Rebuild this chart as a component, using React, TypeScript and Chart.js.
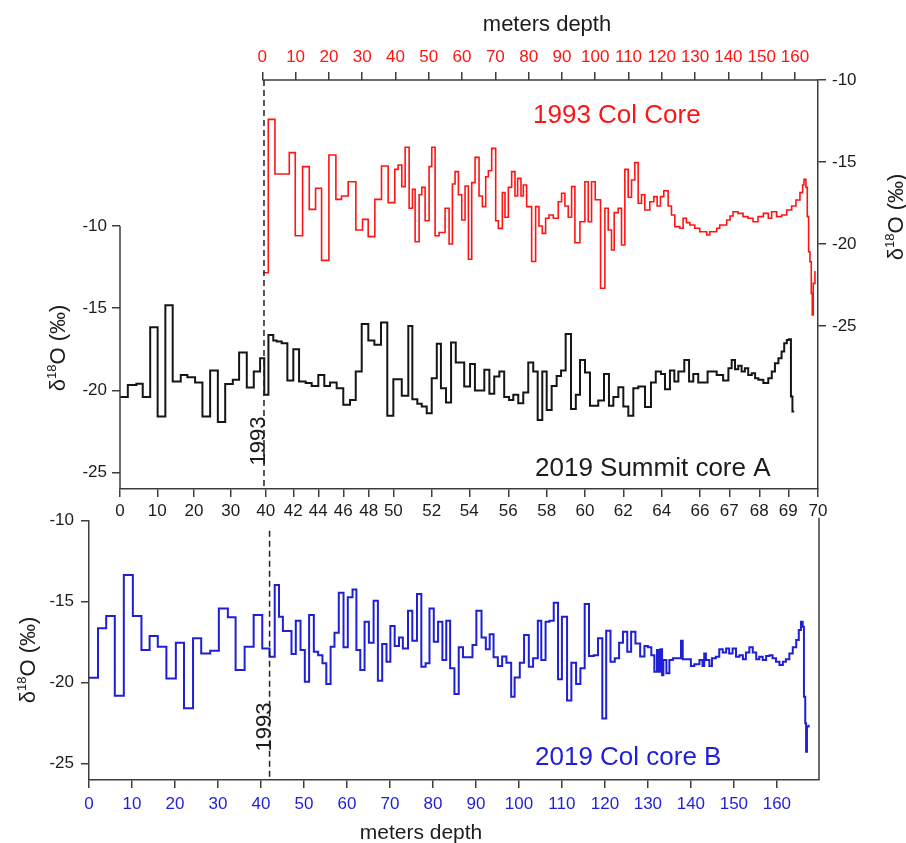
import React, { useEffect, useRef } from 'react';
import { Chart, LinearScale, registerables } from 'chart.js';

// ---------------- data ----------------
// 1993 Col Core (top axis depth, right axis d18O): step boundaries (m) and values (‰)
const COL1993_DEPTH = [0.3,1.8,3.8,8.1,9.9,12.1,14.1,16.0,17.8,20.0,
  22.1,23.8,25.8,28.1,30.1,31.8,33.8,35.8,37.8,39.8,
  40.8,41.9,42.9,44.1,45.1,45.9,47.1,47.9,48.9,50.1,
  50.9,51.9,53.1,54.9,56.1,57.1,57.9,58.9,59.9,60.9,
  61.9,62.9,63.9,65.1,66.1,67.1,67.9,68.9,70.1,70.9,
  72.1,72.9,73.9,74.9,75.9,76.7,77.7,78.4,79.4,80.9,
  82.1,83.1,84.1,85.1,86.1,87.4,88.9,89.9,90.9,91.9,
  92.9,93.9,95.4,96.9,97.9,98.9,100.0,101.6,102.9,103.9,
  104.9,105.7,106.9,107.9,108.9,109.9,110.9,111.9,112.9,113.9,
  114.9,116.4,117.6,118.6,119.6,120.6,121.9,122.9,123.9,124.4,
  125.4,126.4,127.4,128.4,129.9,131.4,133.5,134.4,136.5,137.4,
  139.5,140.5,141.4,142.9,144.4,145.9,147.4,148.9,150.5,152.0,
  153.0,154.5,156.0,157.5,159.0,160.3,161.5,162.3,162.7,163.3,
  163.7,164.1,164.5,164.9,165.2,165.5,166.0,
  166.2];
const COL1993_D18O = [-21.75,-12.4,-15.73,-14.43,-19.5,-15.28,-17.89,-16.6,-21.0,-14.57,
  -17.28,-17.07,-16.2,-19.15,-18.5,-19.55,-17.28,-15.24,-17.48,-15.45,
  -15.18,-16.5,-14.1,-17.82,-16.67,-19.86,-17.0,-16.55,-18.58,-15.28,
  -14.1,-19.5,-19.3,-17.82,-20.0,-16.34,-15.59,-17.0,-18.54,-16.46,
  -20.93,-16.26,-14.72,-17.07,-17.72,-15.9,-15.53,-14.17,-18.58,-19.05,
  -16.87,-18.37,-16.55,-15.59,-17.07,-16.0,-17.07,-16.4,-17.72,-21.07,
  -17.72,-18.9,-19.35,-18.43,-18.23,-18.43,-17.42,-16.91,-17.68,-18.37,
  -16.5,-19.92,-18.64,-16.2,-18.64,-16.2,-17.3,-22.7,-17.82,-19.15,
  -20.37,-18.09,-17.82,-20.06,-15.45,-17.15,-16.1,-15.04,-17.52,-17.0,
  -17.93,-17.42,-17.11,-17.68,-17.11,-16.75,-17.68,-18.23,-18.94,-18.94,
  -19.04,-18.43,-18.7,-18.84,-19.04,-19.25,-19.45,-19.25,-19.04,-18.84,
  -18.54,-18.29,-18.03,-18.13,-18.33,-18.43,-18.64,-18.33,-18.13,-18.43,
  -18.03,-18.33,-18.23,-17.93,-17.68,-17.32,-16.87,-16.4,-16.06,-16.55,
  -18.33,-20.47,-21.08,-23.01,-24.33,-22.4,-21.69];

// 2019 Summit core A (bottom axis depth, left axis d18O)
const COREA_DEPTH = [0,2.1,4.4,6.1,8.1,10.1,12.2,14.2,16.4,18.2,
  20.3,22.3,24.4,26.5,28.5,30.6,32.4,34.6,36.6,38.4,
  39.6,40.2,40.55,40.8,41.16,41.57,42.0,42.46,42.99,43.47,
  44.0,44.48,44.94,45.47,46.0,46.53,46.98,47.45,47.97,48.46,
  49.0,49.51,50.0,50.44,50.78,50.99,51.25,51.48,51.74,52.0,
  52.27,52.49,52.76,53.03,53.28,53.73,54.04,54.29,54.77,55.03,
  55.28,55.54,55.79,56.04,56.26,56.52,56.78,57.04,57.3,57.53,
  57.77,58.0,58.26,58.52,58.75,58.99,59.27,59.52,59.74,60.0,
  60.26,60.69,60.99,61.25,61.48,61.74,62.0,62.26,62.52,62.78,
  63.13,63.44,63.69,63.96,64.17,64.43,64.66,64.87,65.18,65.43,
  65.65,65.91,66.26,66.57,66.79,66.97,67.08,67.19,67.3,67.41,
  67.52,67.63,67.75,67.86,67.97,68.14,68.31,68.43,68.54,68.66,
  68.77,68.86,68.95,69.02,69.09,69.14,
  69.2];
const COREA_D18O = [-20.41,-19.67,-19.6,-20.41,-16.16,-21.59,-14.82,-19.46,-19.06,-19.2,
  -19.53,-21.59,-18.8,-21.93,-19.62,-19.36,-17.7,-19.83,-18.86,-18.04,
  -20.27,-16.63,-16.97,-17.03,-17.13,-19.4,-17.5,-19.46,-19.56,-19.73,
  -19.06,-19.73,-19.53,-19.87,-20.88,-20.58,-18.86,-15.96,-16.97,-17.23,
  -15.88,-21.55,-19.32,-20.33,-16.08,-20.54,-20.82,-20.98,-21.39,-19.26,
  -17.17,-19.87,-20.74,-17.09,-18.31,-19.77,-18.39,-20.01,-18.75,-20.21,
  -19.16,-18.86,-20.41,-20.58,-20.27,-20.78,-20.13,-18.31,-18.86,-21.8,
  -18.86,-21.19,-19.73,-19.12,-18.8,-16.57,-21.14,-20.27,-18.15,-18.92,
  -20.94,-20.62,-19.0,-20.94,-20.41,-19.81,-20.98,-21.55,-19.87,-19.77,
  -21.02,-19.53,-18.86,-19.0,-19.93,-18.8,-19.46,-18.86,-18.15,-19.46,
  -19.0,-19.53,-18.86,-19.06,-19.4,-18.65,-18.15,-18.71,-18.51,-18.86,
  -18.65,-19.06,-18.96,-19.26,-19.36,-19.56,-19.26,-18.86,-18.35,-18.04,
  -17.64,-17.13,-16.93,-16.89,-20.38,-21.29];

// 2019 Col core B (bottom panel)
const COREB_DEPTH = [0,2.1,4.0,6.0,8.1,10.2,12.2,14.1,16.0,18.0,
  20.2,22.1,24.2,26.1,28.2,30.2,32.3,34.1,36.2,38.3,
  40.3,42.0,43.2,44.2,45.1,47.1,48.1,49.2,50.2,51.2,
  52.3,53.3,54.3,55.2,56.2,57.1,58.1,59.2,60.2,61.3,
  62.2,63.1,64.1,65.1,66.2,67.2,68.2,69.2,70.1,71.1,
  72.1,73.0,74.2,75.2,76.3,77.3,78.3,79.2,80.2,81.2,
  82.2,83.1,84.0,85.0,86.0,87.0,89.2,90.1,91.3,92.3,
  93.2,94.1,95.1,96.1,97.1,98.2,99.0,100.2,101.2,102.3,
  103.3,104.4,105.2,106.2,107.1,108.1,109.1,110.0,111.2,112.2,
  113.3,114.3,115.3,116.3,117.4,118.4,119.4,120.3,121.3,122.3,
  123.3,124.2,125.2,126.1,127.1,128.2,129.2,130.0,130.8,131.5,
  132.1,132.5,132.9,133.3,133.6,134.3,135.0,135.8,137.7,138.1,
  140.0,140.8,142.0,142.7,143.1,143.5,144.3,144.9,145.8,146.6,
  147.4,148.2,148.9,149.7,150.5,151.3,152.1,152.8,153.6,154.4,
  155.2,155.9,156.7,157.5,158.3,159.0,159.8,160.6,161.4,162.1,
  162.9,163.7,164.5,165.1,165.6,166.0,166.3,166.6,166.8,167.0,
  167.4,
  167.6];
const COREB_D18O = [-19.69,-16.64,-15.88,-20.8,-13.35,-15.88,-17.98,-17.12,-17.78,-19.73,
  -17.53,-21.58,-17.26,-18.19,-18.02,-15.41,-15.96,-19.22,-17.78,-15.82,
  -17.88,-18.4,-13.97,-15.93,-16.81,-18.23,-16.17,-17.98,-19.94,-15.82,
  -18.09,-18.3,-18.8,-20.08,-17.78,-16.91,-14.44,-17.81,-14.73,-14.24,
  -17.98,-19.22,-16.23,-17.53,-14.94,-19.88,-17.61,-18.7,-16.5,-17.73,
  -17.2,-17.88,-15.56,-17.41,-14.52,-19.01,-18.8,-15.41,-17.47,-16.23,
  -18.6,-16.17,-19.11,-20.7,-17.81,-18.43,-17.67,-15.56,-17.2,-17.93,
  -17.0,-18.43,-18.97,-18.38,-18.77,-20.86,-19.67,-18.77,-17.06,-19.01,
  -18.49,-16.17,-18.6,-16.23,-16.17,-15.06,-19.79,-15.93,-21.1,-18.77,
  -20.08,-19.11,-15.14,-18.35,-18.3,-17.26,-22.2,-16.79,-18.7,-18.49,
  -17.53,-16.85,-18.09,-16.85,-17.57,-18.38,-17.73,-17.81,-18.3,-19.32,
  -17.98,-19.32,-17.93,-19.53,-18.6,-19.42,-18.6,-18.49,-17.41,-18.55,
  -18.97,-18.85,-18.6,-18.97,-18.19,-18.6,-18.97,-18.49,-18.4,-17.93,
  -18.14,-17.88,-18.19,-17.88,-18.4,-18.3,-18.55,-18.14,-17.81,-18.14,
  -18.55,-18.4,-18.6,-18.35,-18.3,-18.49,-18.7,-18.91,-18.7,-18.55,
  -18.19,-17.81,-17.36,-16.75,-16.23,-16.54,-20.86,-22.5,-24.26,-22.7,
  -22.66];

// axis ticks
const COREA_TICKS = [0,10,20,30,40,42,44,46,48,50,52,54,56,58,60,62,64,66,67,68,69,70];
// fraction of axis length where each core A tick sits (non-linear depth axis)
const COREA_TICK_FRAC = [0,0.0534,0.106,0.1586,0.2087,0.2483,0.2841,0.3199,0.3563,0.3916,
  0.4466,0.5004,0.5563,0.6113,0.6662,0.7211,0.7761,0.8309,0.8729,0.9159,0.9574,1];
const COL_TICKS = [0,10,20,30,40,50,60,70,80,90,100,110,120,130,140,150,160];
const COREB_TICKS = [0,10,20,30,40,50,60,70,80,90,100,110,120,130,140,150,160];
const D18O_TICKS = [-25,-20,-15,-10];
const MARK_1993_TOP = 0.5;   // 1993 surface on 1993 core depth axis
const MARK_1993_B = 42;      // 1993 surface in core B depth

// ---------------- styling ----------------
const FONT = '"Liberation Sans", Arial, Helvetica, sans-serif';
const RED = '#ff1414';
const BLUE = '#1f1fd6';
const INK = '#1c1c1c';
const AXIS = '#3c3c3c';

Chart.register(...registerables);

function pwFrac(v: number) {
  const t = COREA_TICKS, f = COREA_TICK_FRAC;
  for (let i = 1; i < t.length; i++) {
    if (v <= t[i] || i === t.length - 1) {
      return f[i - 1] + (v - t[i - 1]) * (f[i] - f[i - 1]) / (t[i] - t[i - 1]);
    }
  }
  return 0;
}
function pwInv(fr: number) {
  const t = COREA_TICKS, f = COREA_TICK_FRAC;
  for (let i = 1; i < f.length; i++) {
    if (fr <= f[i] || i === f.length - 1) {
      return t[i - 1] + (fr - f[i - 1]) * (t[i] - t[i - 1]) / (f[i] - f[i - 1]);
    }
  }
  return 0;
}

class PiecewiseScale extends (LinearScale as any) {
  static id = 'piecewise';
  static defaults = {};
  getPixelForValue(value: any) {
    if (value === null || value === undefined || isNaN(value)) return NaN;
    return (this as any).getPixelForDecimal(pwFrac(value));
  }
  getValueForPixel(pixel: number) {
    return pwInv((this as any).getDecimalForPixel(pixel));
  }
}
Chart.register(PiecewiseScale as any);

function stepPoints(depth: number[], vals: number[]) {
  const pts = vals.map((v, i) => ({ x: depth[i], y: v }));
  pts.push({ x: depth[vals.length], y: vals[vals.length - 1] });
  return pts;
}

const tickFont = { family: FONT, size: 17 };
const tickGrid = { display: true, drawOnChartArea: false, drawTicks: true, tickLength: 8, color: AXIS, lineWidth: 1.5 };
function ticksOpt(color: string, padding: number) {
  return { color, font: tickFont, padding, autoSkip: false, maxRotation: 0, minRotation: 0, callback: (v: any) => String(v) };
}
const setTicks = (arr: number[]) => (s: any) => { s.ticks = arr.map((v) => ({ value: v })); };

function drawDeltaTitle(ctx: CanvasRenderingContext2D, cx: number, cy: number, size: number, color: string) {
  ctx.save();
  ctx.translate(cx, cy);
  ctx.rotate(-Math.PI / 2);
  ctx.fillStyle = color;
  ctx.textBaseline = 'alphabetic';
  ctx.textAlign = 'left';
  const big = `${size}px ${FONT}`;
  const small = `${Math.round(size * 0.58)}px ${FONT}`;
  const parts: any[] = [
    { t: 'δ', f: big, dy: 0 },
    { t: '18', f: small, dy: -size * 0.42 },
    { t: 'O (‰)', f: big, dy: 0 },
  ];
  let total = 0;
  parts.forEach((p) => { ctx.font = p.f; p.w = ctx.measureText(p.t).width; total += p.w; });
  let x = -total / 2;
  const base = size * 0.36;
  parts.forEach((p) => { ctx.font = p.f; ctx.fillText(p.t, x, base + p.dy); x += p.w; });
  ctx.restore();
}
function drawVertText(ctx: CanvasRenderingContext2D, text: string, cx: number, cy: number, size: number, color: string) {
  ctx.save();
  ctx.translate(cx, cy);
  ctx.rotate(-Math.PI / 2);
  ctx.fillStyle = color;
  ctx.font = `${size}px ${FONT}`;
  ctx.textAlign = 'center';
  ctx.textBaseline = 'alphabetic';
  ctx.fillText(text, 0, size * 0.36);
  ctx.restore();
}
function drawText(ctx: CanvasRenderingContext2D, text: string, x: number, y: number, size: number, color: string, align: CanvasTextAlign = 'left') {
  ctx.save();
  ctx.fillStyle = color;
  ctx.font = `${size}px ${FONT}`;
  ctx.textAlign = align;
  ctx.textBaseline = 'alphabetic';
  ctx.fillText(text, x, y);
  ctx.restore();
}
function seg(ctx: CanvasRenderingContext2D, x1: number, y1: number, x2: number, y2: number) {
  ctx.beginPath(); ctx.moveTo(x1, y1); ctx.lineTo(x2, y2); ctx.stroke();
}

const H1 = 540;
const H2 = 353;
const TOP2 = 490;

export default function App() {
  const topRef = useRef<HTMLCanvasElement>(null);
  const botRef = useRef<HTMLCanvasElement>(null);

  useEffect(() => {
    const decor1 = {
      id: 'decor1',
      afterDraw(chart: any) {
        const { ctx, chartArea: a, scales } = chart;
        ctx.save();
        ctx.strokeStyle = AXIS;
        ctx.lineWidth = 1.5;
        seg(ctx, a.left, scales.yLeft.getPixelForValue(-10), a.left, a.bottom);
        seg(ctx, scales.xTop.getPixelForValue(0), a.top, a.right, a.top);
        const dx = scales.xTop.getPixelForValue(MARK_1993_TOP);
        ctx.strokeStyle = '#222';
        ctx.setLineDash([6, 4]);
        seg(ctx, dx, a.top, dx, a.bottom);
        ctx.restore();
        drawVertText(ctx, '1993', dx - 7, 441, 22, INK);
        drawText(ctx, '1993 Col Core', 533, 123, 26, RED);
        drawText(ctx, '2019 Summit core A', 535, 476, 26, INK);
        drawText(ctx, 'meters depth', 547, 31, 22, INK, 'center');
        drawDeltaTitle(ctx, 57, 348, 22, INK);
        drawDeltaTitle(ctx, 895, 217, 22, INK);
      },
    };

    const c1 = new Chart(topRef.current as any, {
      type: 'line',
      data: {
        datasets: [
          {
            label: '2019 Summit core A',
            data: stepPoints(COREA_DEPTH, COREA_D18O),
            xAxisID: 'xA', yAxisID: 'yLeft',
            borderColor: '#151515', borderWidth: 2, pointRadius: 0, stepped: true, fill: false,
          },
          {
            label: '1993 Col Core',
            data: stepPoints(COL1993_DEPTH, COL1993_D18O),
            xAxisID: 'xTop', yAxisID: 'yRight',
            borderColor: RED, borderWidth: 1.6, pointRadius: 0, stepped: true, fill: false,
          },
        ],
      },
      options: {
        animation: false,
        responsive: false,
        devicePixelRatio: 1,
        events: [],
        layout: { padding: 0 },
        plugins: { legend: { display: false }, tooltip: { enabled: false } },
        scales: {
          xA: {
            type: 'piecewise', position: 'bottom', min: 0, max: 70,
            afterBuildTicks: setTicks(COREA_TICKS),
            afterFit: (s: any) => { s.height = H1 - 489; },
            ticks: ticksOpt(INK, 4), grid: tickGrid,
            border: { display: true, color: AXIS, width: 1.5 },
          },
          xTop: {
            type: 'linear', position: 'top', min: -42.75, max: 166.92,
            afterBuildTicks: setTicks(COL_TICKS),
            afterFit: (s: any) => { s.height = 80; },
            ticks: ticksOpt(RED, 4), grid: tickGrid,
            border: { display: false },
          },
          yLeft: {
            type: 'linear', position: 'left', min: -26, max: -1.124,
            afterBuildTicks: setTicks(D18O_TICKS),
            afterFit: (s: any) => { s.width = 120; },
            ticks: ticksOpt(INK, 5), grid: tickGrid,
            border: { display: false },
          },
          yRight: {
            type: 'linear', position: 'right', min: -34.94, max: -10,
            afterBuildTicks: setTicks(D18O_TICKS),
            afterFit: (s: any) => { s.width = 906 - 818; },
            ticks: ticksOpt(INK, 6), grid: tickGrid,
            border: { display: true, color: AXIS, width: 1.5 },
          },
        },
      } as any,
      plugins: [decor1],
    } as any);

    const decor2 = {
      id: 'decor2',
      afterDraw(chart: any) {
        const { ctx, chartArea: a, scales } = chart;
        ctx.save();
        ctx.strokeStyle = AXIS;
        ctx.lineWidth = 1.5;
        seg(ctx, a.right, a.top - 3, a.right, a.bottom);
        const dx = scales.x.getPixelForValue(MARK_1993_B);
        ctx.strokeStyle = '#222';
        ctx.setLineDash([6, 4]);
        seg(ctx, dx, a.top + 10, dx, a.bottom);
        ctx.restore();
        drawVertText(ctx, '1993', dx - 6, 727 - TOP2, 22, INK);
        drawText(ctx, '2019 Col core B', 535, 765 - TOP2, 26, BLUE);
        drawText(ctx, 'meters depth', 421, 839 - TOP2, 21, INK, 'center');
        drawDeltaTitle(ctx, 27, 660 - TOP2, 22, INK);
      },
    };

    const c2 = new Chart(botRef.current as any, {
      type: 'line',
      data: {
        datasets: [
          {
            label: '2019 Col core B',
            data: stepPoints(COREB_DEPTH, COREB_D18O),
            borderColor: BLUE, borderWidth: 2, pointRadius: 0, stepped: true, fill: false,
          },
        ],
      },
      options: {
        animation: false,
        responsive: false,
        devicePixelRatio: 1,
        events: [],
        layout: { padding: { top: 520.7 - TOP2, right: 906 - 819, left: 0, bottom: 0 } },
        plugins: { legend: { display: false }, tooltip: { enabled: false } },
        scales: {
          x: {
            type: 'linear', position: 'bottom', min: 0, max: 169.8,
            afterBuildTicks: setTicks(COREB_TICKS),
            afterFit: (s: any) => { s.height = H2 - (780 - TOP2); },
            ticks: ticksOpt(BLUE, 6), grid: tickGrid,
            border: { display: true, color: AXIS, width: 1.5 },
          },
          y: {
            type: 'linear', position: 'left', min: -26, max: -10,
            afterBuildTicks: setTicks(D18O_TICKS),
            afterFit: (s: any) => { s.width = 89; },
            ticks: ticksOpt(INK, 7), grid: tickGrid,
            border: { display: true, color: AXIS, width: 1.5 },
          },
        },
      } as any,
      plugins: [decor2],
    } as any);

    return () => { c1.destroy(); c2.destroy(); };
  }, []);

  return (
    <div style={{ position: 'absolute', left: 0, top: 0, width: 906, height: 843, background: '#fff', overflow: 'hidden' }}>
      <canvas ref={topRef} width={906} height={H1} style={{ position: 'absolute', left: 0, top: 0, width: 906, height: H1 }} />
      <canvas ref={botRef} width={906} height={H2} style={{ position: 'absolute', left: 0, top: TOP2, width: 906, height: H2 }} />
    </div>
  );
}
